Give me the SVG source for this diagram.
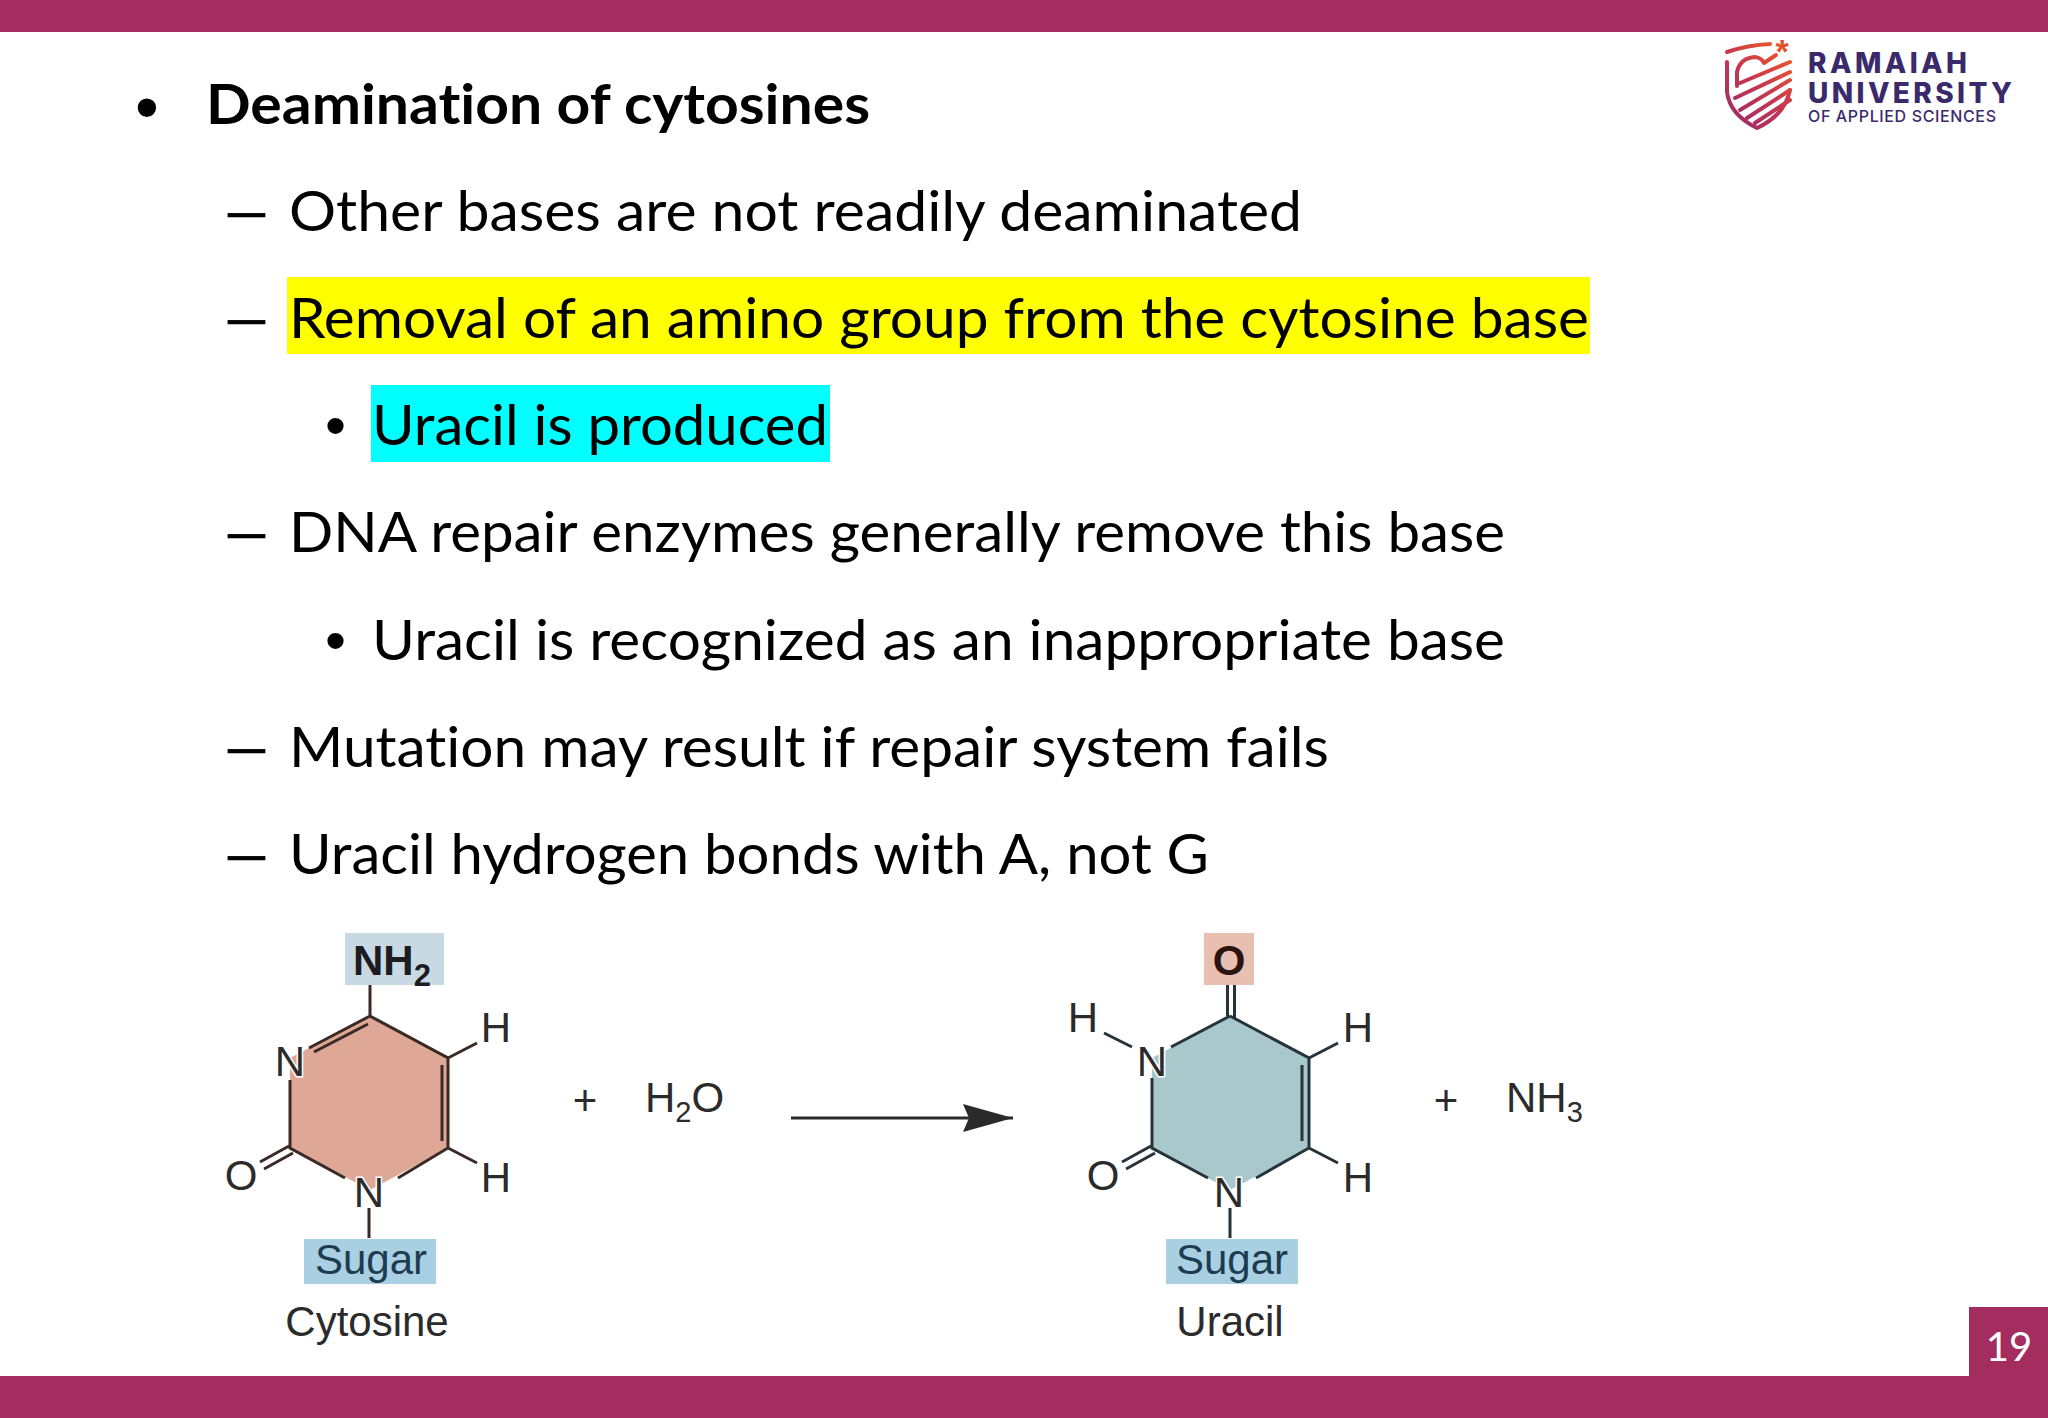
<svg xmlns="http://www.w3.org/2000/svg" width="2048" height="1418" viewBox="0 0 2048 1418">
<style>
.t{font-family:"Lato","Carlito","Liberation Sans",sans-serif;font-size:56px;fill:#000;font-variant-ligatures:none}
.d{font-family:"Liberation Sans",sans-serif;font-size:56px;fill:#000;stroke:#000;stroke-width:0.7px}
.p{font-family:"Liberation Sans",sans-serif;font-size:68px;fill:#000}
.q{font-family:"Liberation Sans",sans-serif;font-size:60px;fill:#000}
.c{font-family:"Liberation Sans",Arial,sans-serif;font-size:42px;fill:#2b2b2b}
.b{font-weight:700;fill:#1c1c22}
.s{font-size:29px}
.h{paint-order:stroke;stroke:#fff;stroke-width:3px}
.bond{stroke:#3a2a26;stroke-width:3;fill:none}
.ubond{stroke:#25343a;stroke-width:3;fill:none}
.logo{font-family:"Inter","Liberation Sans",sans-serif;fill:#3b2a6b;font-weight:800}
.st{fill:none;stroke:url(#lg);stroke-width:4;stroke-linecap:round;stroke-linejoin:round}
</style>
<defs>
<linearGradient id="lg" gradientUnits="userSpaceOnUse" x1="1728" y1="125" x2="1792" y2="55">
<stop offset="0" stop-color="#9a2a68"/><stop offset="0.55" stop-color="#c8384f"/><stop offset="1" stop-color="#ea5a28"/>
</linearGradient>
<marker id="ah" viewBox="0 0 50 28" refX="50" refY="14" markerWidth="50" markerHeight="28" markerUnits="userSpaceOnUse" orient="auto"><path d="M0 0L50 14L0 28L6 14Z" fill="#2a2a2a"/></marker>
</defs>
<rect width="2048" height="1418" fill="#fff"/>
<g id="frame" fill="#a22d5e">
<rect width="2048" height="32"/>
<rect y="1376" width="2048" height="42"/>
<rect x="1969" y="1307" width="79" height="70"/>
</g>
<g id="page-number"><text x="2009" y="1361" text-anchor="middle" style="font-family:Lato,sans-serif;font-size:40px;fill:#fff">19</text></g>

<g id="logo">
<path d="M1727 52Q1748 45 1770 44" class="st" stroke-width="5"/>
<path d="M1737 86L1737 72Q1740 58 1755 57Q1762 58 1764 63L1776 55" class="st"/>
<path d="M1727 62L1727 92Q1730 115 1757 128Q1785 115 1790 90" class="st"/>
<path d="M1740 83L1790 62M1735 98L1790 72M1740 110L1790 80M1747 118L1790 90M1755 123L1790 100" class="st"/>
<text x="1782" y="63" text-anchor="middle" style="font-family:'Liberation Sans',sans-serif;font-size:34px;font-weight:700;fill:#e2522d">*</text>
<text class="logo" x="1808" y="73" font-size="28" textLength="159">RAMAIAH</text>
<text class="logo" x="1808" y="103" font-size="28" textLength="204">UNIVERSITY</text>
<text class="logo" x="1808" y="122" font-size="16" style="font-weight:500" textLength="188">OF APPLIED SCIENCES</text>
</g>

<g id="bullets">
<rect x="287" y="277" width="1303" height="77" fill="#ffff00"/>
<rect x="371" y="385" width="459" height="77" fill="#00ffff"/>
<text class="p" x="135" y="130">•</text>
<text class="t" x="206" y="124" font-weight="700" textLength="664" lengthAdjust="spacingAndGlyphs">Deamination of cytosines</text>
<text class="d" x="228" y="229" textLength="37" lengthAdjust="spacingAndGlyphs">–</text>
<text class="t" x="289" y="231" textLength="1013" lengthAdjust="spacingAndGlyphs">Other bases are not readily deaminated</text>
<text class="d" x="228" y="336" textLength="37" lengthAdjust="spacingAndGlyphs">–</text>
<text class="t" x="289" y="338" textLength="1300" lengthAdjust="spacingAndGlyphs">Removal of an amino group from the cytosine base</text>
<text class="q" x="325" y="446">•</text>
<text class="t" x="372" y="445" textLength="456" lengthAdjust="spacingAndGlyphs">Uracil is produced</text>
<text class="d" x="228" y="550" textLength="37" lengthAdjust="spacingAndGlyphs">–</text>
<text class="t" x="289" y="552" textLength="1216" lengthAdjust="spacingAndGlyphs">DNA repair enzymes generally remove this base</text>
<text class="q" x="325" y="661">•</text>
<text class="t" x="372" y="660" textLength="1133" lengthAdjust="spacingAndGlyphs">Uracil is recognized as an inappropriate base</text>
<text class="d" x="228" y="765" textLength="37" lengthAdjust="spacingAndGlyphs">–</text>
<text class="t" x="289" y="767" textLength="1040" lengthAdjust="spacingAndGlyphs">Mutation may result if repair system fails</text>
<text class="d" x="228" y="872" textLength="37" lengthAdjust="spacingAndGlyphs">–</text>
<text class="t" x="289" y="874" textLength="920" lengthAdjust="spacingAndGlyphs">Uracil hydrogen bonds with A, not G</text>
</g>

<g id="cytosine">
<rect x="345" y="933" width="99" height="52" fill="#c9d9e4"/>
<rect x="304" y="1239" width="132" height="45" fill="#a9cfe3"/>
<polygon points="370,1016 448,1058 448,1148 370,1190 290,1148 290,1058" fill="#dfa896"/>
</g>
<g id="uracil">
<rect x="1204" y="933" width="50" height="52" fill="#e8bfb0"/>
<rect x="1166" y="1239" width="132" height="45" fill="#a9cfe3"/>
<polygon points="1230,1016 1309,1058 1309,1148 1230,1190 1152,1148 1152,1058" fill="#a9c8cc"/>
</g>

<g id="connectors">
<g class="bond">
<path d="M370 985V1016L448 1058V1148L398 1178M345 1178L290 1148V1080M370 1016L309 1048M368 1024L314 1052M442 1065V1141M448 1058L477 1043M448 1148L477 1163M289 1146L260 1162M293 1153L264 1169M369 1208V1238"/>
</g>
<g class="ubond">
<path d="M1227.500 985V1016M1234.500 985V1019M1230 1016L1309 1058V1148L1256 1178M1208 1178L1152 1148V1078M1230 1016L1171 1047M1302 1065V1141M1309 1058L1338 1043M1309 1148L1338 1163M1104 1033L1132 1047M1151 1146L1122 1162M1155 1153L1126 1169M1230 1208V1238"/>
</g>
<line x1="791" y1="1118" x2="1013" y2="1118" stroke="#2a2a2a" stroke-width="3" marker-end="url(#ah)"/>
</g>

<g id="cytosine-labels">
<text class="c b" x="353" y="975" style="font-size:42px">NH<tspan dy="11" style="font-size:31px">2</tspan></text>
<text class="c h" x="290" y="1076" text-anchor="middle">N</text>
<text class="c" x="496" y="1042" text-anchor="middle">H</text>
<text class="c" x="496" y="1192" text-anchor="middle">H</text>
<text class="c" x="241" y="1190" text-anchor="middle">O</text>
<text class="c h" x="369" y="1207" text-anchor="middle">N</text>
<text class="c" x="371" y="1274" text-anchor="middle" style="fill:#1d3c50">Sugar</text>
<text class="c" x="367" y="1336" text-anchor="middle">Cytosine</text>
<text class="c" x="585" y="1115" text-anchor="middle">+</text>
<text class="c" x="645" y="1112">H<tspan class="s" dy="10">2</tspan><tspan dy="-10">O</tspan></text>
</g>
<g id="uracil-labels">
<text class="c b" x="1229" y="975" text-anchor="middle" style="font-size:42px;fill:#2a1510">O</text>
<text class="c" x="1083" y="1032" text-anchor="middle">H</text>
<text class="c h" x="1152" y="1076" text-anchor="middle">N</text>
<text class="c" x="1358" y="1042" text-anchor="middle">H</text>
<text class="c" x="1358" y="1192" text-anchor="middle">H</text>
<text class="c" x="1103" y="1190" text-anchor="middle">O</text>
<text class="c h" x="1229" y="1207" text-anchor="middle">N</text>
<text class="c" x="1232" y="1274" text-anchor="middle" style="fill:#1d3c50">Sugar</text>
<text class="c" x="1230" y="1336" text-anchor="middle">Uracil</text>
<text class="c" x="1446" y="1115" text-anchor="middle">+</text>
<text class="c" x="1506" y="1112">NH<tspan class="s" dy="10">3</tspan></text>
</g>
</svg>
